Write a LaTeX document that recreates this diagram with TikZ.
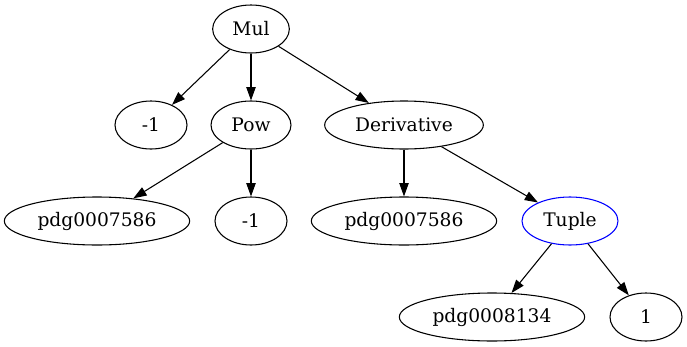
\documentclass[tikz,border=0pt]{standalone}
\usepackage{fontspec}
\setmainfont{DejaVu Serif}
\usetikzlibrary{arrows.meta,shapes.geometric}
\begin{document}
\begin{tikzpicture}[x=0.75pt,y=-0.75pt,
  nd/.style={draw,ellipse,line width=0.8pt,inner sep=0pt,minimum height=36pt,font=\fontsize{14pt}{16pt}\selectfont},
  edge/.style={line width=0.8pt,-{Triangle[length=10pt,width=7pt]}}]
\useasboundingbox (0,0) rectangle (687,347);
\node[nd,minimum width=57.5pt] (mul) at (251,29) {Mul};
\node[nd,minimum width=54pt] (m1a) at (151,125) {-1};
\node[nd,minimum width=60pt] (pow) at (251,125) {Pow};
\node[nd,minimum width=119pt] (der) at (404,125) {Derivative};
\node[nd,minimum width=139pt] (pdga) at (97,221) {pdg0007586};
\node[nd,minimum width=54pt] (m1b) at (251,221) {-1};
\node[nd,minimum width=139pt] (pdgb) at (404,221) {pdg0007586};
\node[nd,draw=blue,minimum width=72pt] (tup) at (570,221) {Tuple};
\node[nd,minimum width=139pt] (pdgc) at (492,317) {pdg0008134};
\node[nd,minimum width=54pt] (one) at (646,317) {1};
\draw[edge] (mul) -- (m1a);
\draw[edge] (mul) -- (pow);
\draw[edge] (mul) -- (der);
\draw[edge] (pow) -- (pdga);
\draw[edge] (pow) -- (m1b);
\draw[edge] (der) -- (pdgb);
\draw[edge] (der) -- (tup);
\draw[edge] (tup) -- (pdgc);
\draw[edge] (tup) -- (one);
\end{tikzpicture}
\end{document}
